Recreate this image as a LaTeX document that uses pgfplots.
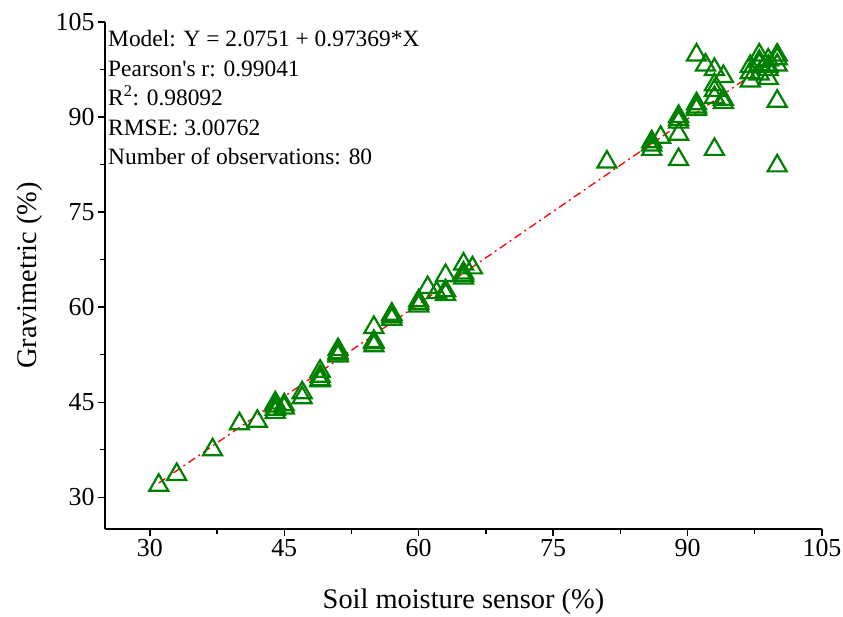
\documentclass[border=0pt]{standalone}
\usepackage{fontspec}
\setmainfont{Liberation Serif}
\usepackage{pgfplots}
\pgfplotsset{compat=1.18}
\definecolor{ogreen}{RGB}{0,128,0}

\begin{document}
\begin{tikzpicture}
\begin{axis}[
  scale only axis, width=717bp, height=507bp,
  xmin=25, xmax=105, ymin=25, ymax=105,
  axis x line*=bottom, axis y line*=left,
  axis line style={-, line width=1.4bp},
  xtick={30,45,...,105}, ytick={30,45,...,105},
  minor tick num=1, tick align=outside,
  major tick length=7bp, minor tick length=4.5bp,
  tick style={black, line width=1.4bp},
  ticklabel style={font=\fontsize{26}{30}\selectfont},
  /pgf/number format/assume math mode=true,
  xlabel={Soil moisture sensor (\%)},
  ylabel={Gravimetric (\%)},
  label style={font=\fontsize{28.5}{32}\selectfont},
  xlabel style={at={(axis description cs:0.5,-0.144)}, anchor=center},
  ylabel style={at={(axis description cs:-0.1046,0.5)}, anchor=center},
  clip=false,
]
\addplot[only marks, mark=triangle, mark size=11bp, ogreen,
  mark options={line width=2.2bp, fill=none}] table[y expr=\thisrow{y}-0.4] {
x y
31 32.3
33 34
37 37.9
40 42
42 42.4
44 45.3
44 44.3
44 43.8
45 45
45 44.5
47 46.9
47 46.1
49 50.3
49 49.5
49 48.8
51 53.7
51 53.2
51 52.7
55 57.2
55 54.8
55 54.3
57 59.3
57 58.5
60 61.4
60 60.6
61 63.5
62 62.7
63 65.4
63 63
63 62.4
65 67.2
65 65.4
65 65
66 66.6
81 83.3
86 86
86 85.3
87 87.2
89 90.5
89 90
89 87.7
89 83.7
91 100.2
91 92.5
91 92
92 98.6
93 97.9
93 95.5
93 94.6
93 93.5
93 85.3
94 96.8
94 92.7
97 98.4
97 96.1
98 100.2
98 97.2
98 98.7
99 99.4
99 97.9
99 96.5
100 100.2
100 98.6
100 92.9
100 82.7
89 89.6
91 91.6
94 93.2
97 97.4
98 99.2
100 99.6
99 98.4
86 86.5
65 65.8
44 44.8
51 53
55 55
60 61
49 49
57 58.9
};
\addplot[red, line width=1.3bp, dash pattern=on 8bp off 4bp on 2bp off 4bp] coordinates {(31,32.259) (100,99.444)};
\end{axis}
\node[anchor=north west, align=left, inner sep=0pt,
  font=\fontsize{23.5}{29.75}\selectfont]
  at ([xshift=3bp,yshift=-8bp]current axis.north west)
  {Model: Y = 2.0751 + 0.97369*X\\
   Pearson\textquotesingle s r: 0.99041\\
   R\textsuperscript{2}: 0.98092\\
   RMSE: 3.00762\\
   Number of observations: 80};
\pgfresetboundingbox
\path[use as bounding box] ([xshift=-105bp,yshift=-88bp]current axis.south west) rectangle ++(843bp,617bp);
\end{tikzpicture}
\end{document}
